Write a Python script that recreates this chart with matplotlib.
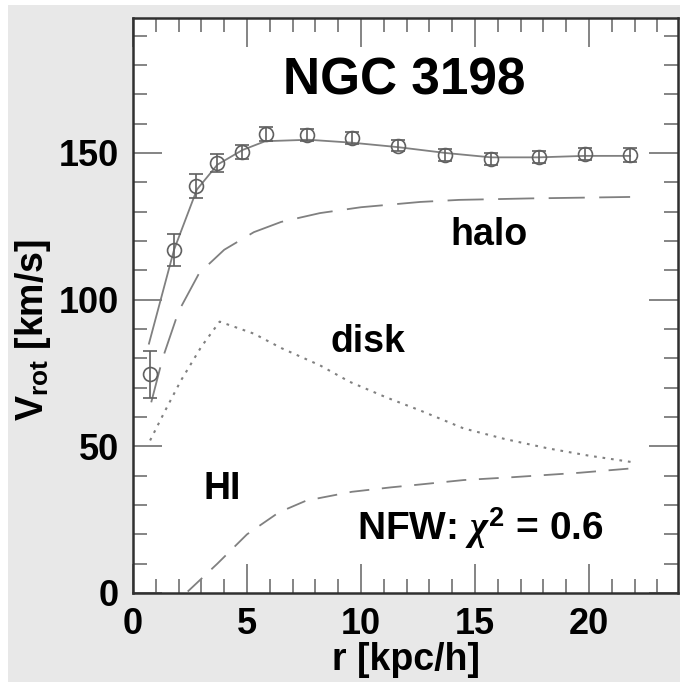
import numpy as np
import matplotlib
matplotlib.use('Agg')
import matplotlib.pyplot as plt
from matplotlib.patches import Rectangle
from matplotlib.ticker import MultipleLocator

plt.rcParams['font.family'] = ['Liberation Sans', 'DejaVu Sans']
plt.rcParams['font.weight'] = 'bold'
plt.rcParams['mathtext.fontset'] = 'custom'
plt.rcParams['mathtext.rm'] = 'Liberation Sans:bold'
plt.rcParams['mathtext.bf'] = 'Liberation Sans:bold'
plt.rcParams['mathtext.it'] = 'Liberation Serif:italic'

# observed rotation curve
r_obs = [0.75, 1.8, 2.75, 3.7, 4.8, 5.85, 7.65, 9.6, 11.6, 13.7, 15.7, 17.8, 19.8, 21.8]
v_obs = [74.5, 117, 138.8, 146.6, 150.3, 156.5, 156, 155, 152.5, 149.3, 148, 148.6, 149.7, 149.3]
v_err = [8, 5.5, 4, 3, 2.5, 2.5, 2, 2, 2, 2, 2, 2, 2, 2.5]

# total fit
r_tot = [0.7, 1.8, 2.8, 3.7, 4.8, 5.8, 7.7, 9.6, 11.6, 13.7, 15.7, 17.8, 19.8, 21.8]
v_tot = [85, 117, 137.5, 146, 151, 154, 154.5, 153.5, 152, 150, 148.5, 148.5, 149, 149]

# halo component
r_halo = [0.8, 1.3, 2.0, 2.9, 4.0, 5.3, 6.5, 8.2, 10.0, 12.6, 14.3, 17.4, 21.8]
v_halo = [65, 80, 96, 109, 117, 123, 126.5, 129.5, 131.5, 133.3, 134, 134.5, 135]

# disk component
r_disk = [0.75, 1.4, 2.1, 3.0, 3.8, 5.3, 6.5, 8.2, 9.5, 11.1, 12.6, 14.5, 16.3, 18.2, 20.0, 21.9]
v_disk = [52, 62, 72.4, 84, 92.5, 88.4, 83.5, 77.6, 72, 66.7, 62.2, 56.1, 52.5, 49.3, 46.8, 44.6]

# HI component
r_hi = [2.4, 3.7, 5.0, 6.4, 7.6, 9.6, 11.3, 12.6, 14.5, 16.7, 19.6, 21.9]
v_hi = [0.5, 10, 20, 27.5, 31.5, 34.5, 36, 37, 38.5, 39.5, 41, 42.5]

fig = plt.figure(figsize=(6.8, 6.82), dpi=100, facecolor='white')
fig.patches.append(Rectangle((8 / 680, 0), 1, 677 / 682, transform=fig.transFigure,
                             facecolor='#e8e8e8', edgecolor='none', zorder=-10))
ax = fig.add_axes([133 / 680, 89 / 682, 545 / 680, 575 / 682])
ax.set_facecolor('white')

lc = '#808080'
ax.plot(r_tot, v_tot, color=lc, lw=1.3)
ax.plot(r_halo, v_halo, color=lc, lw=1.3, dashes=(20, 8))
ax.plot(r_disk, v_disk, color=lc, lw=1.5, dashes=(1.3, 2.8))
ax.plot(r_hi, v_hi, color=lc, lw=1.3, dashes=(11, 7))
ax.errorbar(r_obs, v_obs, yerr=v_err, fmt='o', ms=10, mfc='none', mec='#606060', mew=1.2,
            ecolor='#606060', elinewidth=1.2, capsize=5, capthick=1.2)

ax.set_xlim(0, 23.9)
ax.set_ylim(0, 196)
ax.xaxis.set_major_locator(MultipleLocator(5))
ax.xaxis.set_minor_locator(MultipleLocator(1))
ax.yaxis.set_major_locator(MultipleLocator(50))
ax.yaxis.set_minor_locator(MultipleLocator(10))
ax.tick_params(which='both', direction='in', top=True, right=True, color='#707070',
               labelsize=26, width=1.2)
ax.tick_params(which='major', length=21, pad=10)
ax.tick_params(which='minor', length=10)
for s in ax.spines.values():
    s.set_linewidth(1.8)
    s.set_color('#303030')

ax.set_xlabel('r [kpc/h]', fontsize=27, fontweight='bold')
ax.xaxis.set_label_coords(0.5, -0.085)
ax.set_ylabel(r'V$_{\mathbf{rot}}$ [km/s]', fontsize=27, fontweight='bold')
ax.yaxis.set_label_coords(-0.147, 0.457)

ax.text(11.9, 174.5, 'NGC 3198', fontsize=37, fontweight='bold', ha='center', va='center')
ax.text(15.6, 122, 'halo', fontsize=27, fontweight='bold', ha='center', va='center')
ax.text(10.3, 85.5, 'disk', fontsize=27, fontweight='bold', ha='center', va='center')
ax.text(3.9, 35.5, 'HI', fontsize=27, fontweight='bold', ha='center', va='center')
ax.text(15.25, 22, r'NFW: $\chi^{\mathbf{2}}$ = 0.6', fontsize=28, fontweight='bold',
        ha='center', va='center')

fig.savefig('out.png', dpi=100, facecolor=fig.get_facecolor())
